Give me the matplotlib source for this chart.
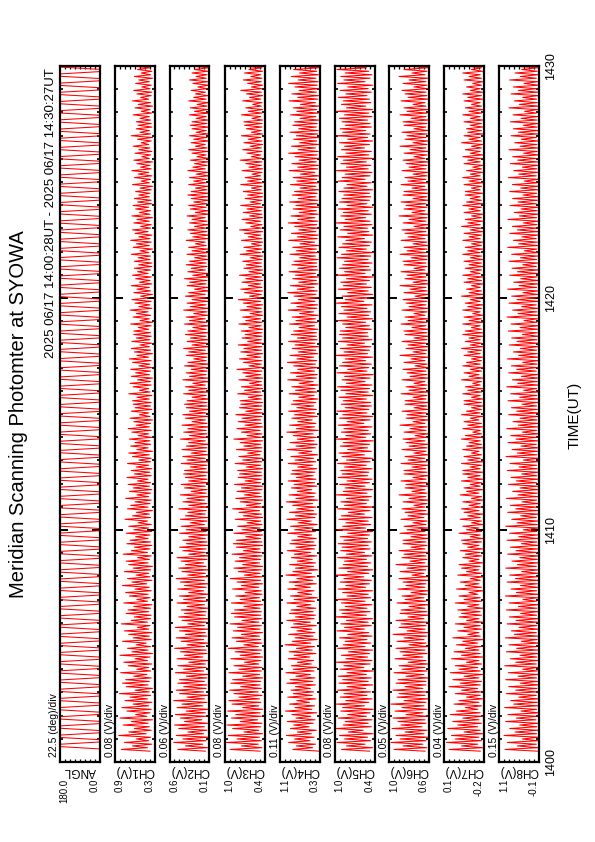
import numpy as np
import matplotlib.pyplot as plt
from matplotlib.ticker import FixedLocator, MultipleLocator

plt.rcParams['font.family'] = ['Liberation Sans', 'DejaVu Sans']

# ------------------------------------------------------------
# data
# time in minutes after 14:00 UT, channel values in 0.01 V
# each channel: one low and one high reading per scan
# ------------------------------------------------------------
t_start = 28 / 60          # 14:00:28
t_end = 30 + 27 / 60       # 14:30:27

angl = [0, 0, 180, 180, 0, 0, 180, 180, 0, 0, 180, 180, 0, 0, 180, 180,
        0, 0, 180, 180, 0, 0, 180, 180, 0, 0, 180, 180, 0, 0, 180, 180,
        0, 0, 180, 180, 0, 0, 180, 180, 0, 0, 180, 180, 0, 0, 180, 180,
        0, 0, 180, 180, 0, 0, 180, 180, 0, 0, 180, 180, 0, 0, 180, 180,
        0, 0, 180, 180, 0, 0, 180, 180, 0, 0, 180, 180, 0, 0, 180, 180,
        0, 0, 180, 180, 0, 0, 180, 180, 0, 0, 180, 180, 0, 0, 180, 180,
        0, 0, 180, 180, 0, 0, 180, 180, 0, 0, 180, 180, 0, 0, 180, 180,
        0, 0, 180, 180, 0, 0, 180, 180, 0, 0, 180, 180, 0, 0, 180, 180,
        0, 0, 180, 180, 0, 0, 180, 180, 0, 0, 180, 180, 0, 0, 180, 180,
        0, 0, 180, 180, 0, 0, 180, 180, 0, 0, 180, 180, 0, 0, 180, 180,
        0, 0, 180, 180, 0, 0, 180, 180, 0, 0, 180, 180, 0, 0, 180, 180,
        0, 0, 180, 180, 0, 0, 180, 180, 0, 0, 180, 180, 0, 0, 180, 180,
        0, 0, 180, 180, 0, 0, 180, 180, 0, 0, 180, 180, 0, 0, 180, 180,
        0, 0, 180, 180, 0, 0, 180, 180, 0, 0, 180, 180, 0, 0, 180, 180,
        0, 0, 180, 180, 0, 0, 180, 180, 0, 0, 180, 180, 0, 0, 180, 180,
        0, 0, 180, 180, 0, 0, 180, 180, 0, 0, 180, 180, 0, 0, 180, 180,
        0, 0, 180, 180, 0, 0, 180, 180, 0, 0, 180, 180, 0, 0, 180, 180,
        0, 0, 180, 180, 0, 0, 180, 180, 0, 0, 180, 180, 0, 0, 180, 180,
        0, 0, 180, 180, 0, 0, 180, 180, 0, 0, 180, 180, 0, 0, 180, 180]

ch1_low = [36, 40, 33, 38, 35, 42, 34, 37, 39, 32, 41, 36, 34, 38, 33, 40, 35, 37, 32, 39,
           37, 34, 41, 35, 38, 33, 40, 36, 32, 39, 35, 42, 34, 37, 33, 38, 36, 40, 35, 34,
           38, 35, 33, 40, 36, 39, 34, 37, 41, 33, 36, 38, 35, 32, 39, 37, 34, 40, 36, 33,
           35, 39, 36, 33, 38, 34, 40, 35, 37, 32, 39, 36, 34, 38, 35, 33, 37, 35, 39, 34,
           36, 33, 38, 35, 34, 37, 32, 39, 35, 36, 33, 38, 34, 37, 35, 32, 36, 38, 33, 35,
           34, 37, 33, 36, 38, 34, 35, 32, 37, 35, 33, 36, 34, 38, 32, 35, 37, 33, 36, 34,
           35, 38, 34, 32, 37, 35, 39, 33, 36, 34, 38, 32, 35, 37, 33, 36, 34, 39, 35, 33,
           33, 36, 35, 38, 32, 37, 34, 36, 33, 39, 35, 34, 37, 32, 36, 35, 38, 33, 34, 37,
           36, 34, 32, 37, 35, 33, 38, 34, 36, 32, 37, 35, 33, 36, 38, 34, 32, 35, 37, 33,
           34, 35, 37, 33, 36, 32, 35, 38, 34, 33, 36, 34, 37, 32, 35, 33, 36, 34, 38, 35]
ch1_high = [82, 64, 77, 58, 86, 70, 61, 79, 66, 84, 59, 73, 81, 63, 76, 68, 85, 60, 74, 80,
            75, 62, 83, 57, 71, 78, 60, 84, 65, 72, 58, 80, 63, 70, 77, 56, 82, 66, 61, 74,
            71, 62, 78, 57, 69, 75, 60, 80, 65, 72, 58, 77, 63, 70, 74, 56, 79, 66, 61, 73,
            68, 59, 74, 62, 70, 55, 76, 64, 58, 72, 67, 60, 75, 57, 69, 63, 71, 56, 73, 61,
            66, 58, 72, 54, 64, 70, 57, 67, 60, 69, 55, 65, 71, 58, 62, 68, 53, 66, 60, 63,
            64, 57, 70, 53, 63, 68, 56, 66, 59, 67, 54, 64, 69, 57, 61, 66, 52, 65, 58, 62,
            62, 55, 67, 52, 63, 58, 68, 54, 60, 65, 51, 62, 57, 66, 53, 59, 64, 56, 61, 54,
            61, 55, 66, 52, 63, 58, 67, 54, 60, 64, 51, 62, 57, 65, 53, 59, 63, 56, 61, 54,
            59, 52, 64, 50, 61, 55, 65, 51, 57, 62, 49, 60, 54, 63, 50, 56, 66, 52, 58, 55,
            58, 52, 63, 50, 60, 55, 64, 51, 57, 62, 49, 59, 54, 61, 50, 56, 66, 52, 58, 55]

ch2_low = [15, 12, 18, 14, 11, 17, 13, 16, 12, 19, 14, 15, 11, 18, 13, 16, 12, 17, 14, 13,
           16, 13, 12, 17, 14, 15, 11, 18, 13, 14, 16, 12, 17, 13, 15, 11, 16, 14, 12, 15,
           14, 12, 16, 13, 15, 11, 17, 14, 12, 16, 13, 15, 12, 14, 17, 13, 11, 15, 14, 12,
           13, 15, 12, 14, 11, 16, 13, 12, 15, 14, 11, 13, 16, 12, 14, 13, 15, 11, 13, 14,
           12, 14, 13, 11, 15, 12, 14, 13, 11, 15, 12, 13, 14, 11, 13, 15, 12, 14, 11, 13,
           13, 11, 14, 12, 13, 15, 11, 12, 14, 13, 12, 11, 14, 13, 12, 15, 11, 13, 12, 14,
           12, 14, 11, 13, 15, 12, 13, 11, 14, 12, 13, 15, 11, 12, 14, 13, 11, 12, 15, 13,
           14, 12, 13, 11, 12, 14, 15, 12, 11, 13, 14, 12, 13, 15, 11, 12, 14, 13, 11, 12,
           11, 13, 12, 14, 13, 11, 12, 15, 13, 12, 11, 14, 12, 13, 15, 11, 13, 12, 14, 11,
           13, 12, 14, 11, 12, 13, 11, 14, 12, 15, 13, 11, 12, 14, 13, 12, 11, 13, 12, 14]
ch2_high = [48, 39, 53, 42, 50, 36, 47, 52, 40, 45, 51, 38, 49, 43, 53, 37, 46, 50, 41, 48,
            46, 38, 51, 41, 48, 35, 49, 40, 45, 52, 37, 44, 50, 39, 46, 51, 36, 43, 47, 40,
            44, 37, 49, 41, 46, 35, 48, 40, 45, 50, 36, 43, 47, 39, 44, 49, 35, 42, 46, 38,
            42, 35, 46, 38, 44, 33, 45, 39, 36, 47, 35, 42, 37, 45, 32, 40, 44, 35, 39, 41,
            40, 33, 44, 37, 42, 32, 43, 38, 35, 45, 34, 41, 36, 43, 31, 39, 42, 34, 38, 40,
            37, 31, 41, 35, 39, 30, 42, 34, 38, 32, 40, 36, 29, 38, 35, 41, 31, 37, 33, 39,
            36, 30, 40, 34, 38, 29, 41, 33, 37, 31, 39, 35, 28, 37, 34, 40, 30, 36, 32, 38,
            34, 28, 37, 31, 35, 27, 38, 30, 33, 36, 28, 34, 31, 37, 27, 33, 35, 29, 32, 36,
            32, 27, 35, 29, 34, 26, 36, 30, 28, 33, 25, 31, 35, 27, 32, 29, 34, 26, 31, 33,
            31, 26, 34, 28, 33, 25, 35, 29, 27, 32, 24, 30, 34, 26, 31, 28, 33, 25, 30, 32]

ch3_low = [44, 41, 47, 42, 45, 40, 46, 43, 41, 48, 42, 44, 40, 46, 43, 45, 41, 47, 42, 44,
           43, 40, 45, 42, 41, 46, 43, 40, 44, 42, 47, 41, 43, 45, 40, 44, 42, 46, 41, 43,
           42, 44, 40, 43, 45, 41, 42, 46, 40, 43, 41, 44, 42, 40, 45, 43, 41, 42, 44, 40,
           41, 43, 40, 42, 44, 41, 43, 40, 42, 45, 41, 43, 40, 42, 44, 41, 40, 43, 42, 41,
           42, 40, 43, 41, 40, 44, 42, 41, 43, 40, 42, 41, 44, 40, 42, 43, 41, 40, 42, 41,
           40, 42, 41, 43, 40, 41, 42, 40, 43, 41, 40, 42, 41, 43, 40, 42, 41, 40, 42, 41,
           41, 40, 42, 41, 43, 40, 41, 42, 40, 43, 41, 42, 40, 41, 43, 40, 42, 41, 40, 42,
           42, 41, 40, 43, 41, 42, 40, 41, 43, 40, 42, 41, 43, 40, 41, 42, 40, 43, 41, 40,
           40, 42, 41, 40, 42, 43, 41, 40, 42, 41, 40, 43, 41, 42, 40, 41, 43, 40, 42, 41,
           41, 40, 43, 41, 40, 42, 41, 43, 40, 42, 41, 40, 42, 41, 43, 40, 41, 42, 40, 43]
ch3_high = [92, 74, 98, 81, 95, 70, 88, 97, 76, 90, 83, 96, 72, 89, 94, 78, 86, 93, 75, 91,
            88, 72, 94, 78, 86, 69, 91, 76, 84, 95, 70, 82, 89, 74, 87, 80, 92, 73, 85, 90,
            85, 70, 90, 76, 83, 68, 88, 74, 81, 92, 69, 79, 86, 72, 84, 77, 89, 71, 82, 87,
            82, 67, 86, 73, 80, 65, 84, 71, 78, 88, 66, 76, 83, 69, 81, 74, 85, 68, 79, 77,
            80, 66, 84, 72, 78, 64, 82, 70, 76, 86, 65, 74, 81, 68, 79, 73, 83, 67, 77, 75,
            76, 63, 80, 69, 74, 61, 78, 67, 72, 81, 62, 71, 77, 65, 75, 70, 79, 64, 73, 68,
            74, 62, 78, 67, 72, 60, 76, 65, 71, 79, 61, 69, 75, 63, 73, 67, 77, 62, 70, 66,
            72, 60, 76, 66, 70, 58, 74, 63, 69, 77, 59, 67, 73, 61, 71, 65, 75, 60, 68, 64,
            71, 58, 75, 64, 68, 57, 73, 62, 67, 76, 58, 65, 72, 60, 70, 63, 74, 58, 66, 69,
            70, 57, 74, 63, 67, 56, 72, 61, 66, 75, 58, 64, 71, 59, 69, 62, 73, 57, 65, 68]

ch4_low = [27, 42, 36, 48, 39, 45, 34, 50, 41, 37, 46, 33, 44, 38, 49, 35, 43, 40, 47, 36,
           42, 37, 47, 39, 33, 45, 40, 48, 35, 43, 38, 46, 32, 41, 37, 44, 34, 47, 39, 36,
           41, 35, 46, 38, 32, 44, 39, 47, 34, 42, 37, 45, 31, 40, 36, 43, 33, 46, 38, 35,
           39, 34, 44, 36, 41, 32, 45, 37, 33, 40, 35, 42, 31, 39, 36, 44, 33, 38, 35, 41,
           37, 33, 42, 35, 40, 31, 44, 36, 32, 39, 34, 41, 30, 38, 35, 43, 32, 37, 34, 40,
           35, 31, 39, 33, 37, 30, 41, 34, 32, 38, 30, 36, 33, 40, 31, 35, 29, 37, 32, 34,
           34, 31, 38, 32, 36, 30, 40, 33, 31, 37, 30, 35, 32, 39, 30, 34, 29, 36, 31, 33,
           33, 30, 36, 31, 34, 29, 38, 32, 30, 35, 29, 33, 31, 37, 30, 34, 28, 32, 31, 35,
           32, 29, 35, 30, 33, 28, 37, 31, 29, 34, 28, 32, 30, 36, 29, 33, 28, 31, 30, 34,
           32, 29, 35, 30, 33, 28, 36, 31, 29, 34, 28, 32, 30, 35, 29, 33, 28, 31, 30, 34]
ch4_high = [86, 78, 95, 82, 100, 76, 91, 84, 98, 79, 88, 102, 81, 93, 77, 97, 85, 90, 80, 99,
            92, 79, 101, 85, 89, 76, 96, 83, 94, 78, 103, 87, 81, 95, 77, 90, 84, 99, 80, 93,
            90, 77, 99, 83, 91, 75, 97, 81, 94, 77, 101, 86, 80, 93, 76, 89, 83, 98, 79, 92,
            88, 75, 97, 82, 91, 74, 99, 80, 93, 77, 86, 100, 79, 94, 76, 89, 83, 96, 78, 90,
            87, 75, 96, 81, 90, 73, 98, 79, 92, 76, 85, 99, 78, 93, 75, 88, 82, 95, 77, 89,
            85, 73, 94, 80, 88, 72, 97, 78, 91, 75, 84, 98, 77, 92, 74, 87, 81, 95, 76, 89,
            84, 72, 93, 79, 87, 71, 96, 77, 90, 74, 83, 97, 76, 91, 73, 86, 80, 94, 75, 88,
            83, 71, 92, 78, 86, 70, 95, 76, 89, 73, 82, 96, 75, 90, 72, 85, 79, 93, 74, 87,
            82, 70, 91, 77, 85, 69, 94, 75, 88, 72, 81, 95, 74, 89, 71, 84, 78, 92, 73, 86,
            82, 70, 91, 77, 85, 69, 94, 75, 88, 72, 81, 95, 74, 89, 71, 84, 78, 92, 73, 86]

ch5_low = [45, 40, 52, 43, 48, 39, 55, 42, 47, 41, 50, 44, 39, 53, 46, 41, 49, 43, 51, 40,
           47, 42, 50, 39, 54, 44, 41, 48, 45, 40, 52, 43, 49, 41, 46, 53, 42, 47, 40, 50,
           44, 49, 41, 52, 43, 47, 40, 51, 45, 42, 54, 46, 40, 48, 43, 50, 41, 53, 44, 47,
           42, 48, 45, 40, 51, 43, 47, 41, 53, 44, 39, 50, 46, 42, 49, 40, 52, 45, 41, 48,
           46, 41, 50, 44, 40, 53, 42, 48, 45, 39, 51, 43, 47, 41, 54, 44, 40, 49, 46, 42,
           43, 50, 40, 47, 45, 41, 52, 44, 39, 49, 46, 42, 51, 40, 48, 45, 43, 53, 41, 47,
           48, 42, 45, 51, 40, 46, 43, 49, 41, 54, 44, 40, 47, 42, 50, 45, 39, 52, 43, 46,
           41, 47, 43, 39, 50, 45, 42, 53, 40, 46, 48, 41, 44, 51, 42, 47, 40, 49, 45, 43,
           45, 40, 49, 42, 52, 44, 41, 47, 43, 50, 39, 46, 42, 53, 45, 40, 48, 44, 51, 42,
           44, 48, 41, 46, 40, 51, 43, 45, 49, 42, 47, 40, 52, 44, 41, 46, 50, 43, 39, 48]
ch5_high = [90, 82, 97, 85, 93, 79, 99, 87, 84, 95, 80, 91, 88, 98, 83, 92, 86, 96, 81, 94,
            88, 95, 81, 92, 86, 98, 83, 90, 79, 96, 87, 84, 93, 80, 97, 85, 91, 82, 99, 89,
            93, 84, 90, 97, 81, 88, 95, 83, 92, 86, 98, 80, 94, 87, 85, 96, 82, 91, 89, 95,
            86, 92, 80, 97, 88, 83, 94, 90, 79, 96, 85, 91, 82, 98, 87, 84, 93, 81, 95, 89,
            91, 85, 96, 82, 89, 94, 80, 92, 87, 98, 83, 90, 86, 95, 81, 93, 88, 97, 84, 90,
            87, 94, 83, 91, 96, 82, 89, 85, 97, 80, 93, 88, 84, 99, 86, 92, 81, 95, 88, 93,
            92, 83, 88, 96, 81, 94, 86, 90, 98, 84, 89, 80, 95, 87, 91, 82, 97, 85, 93, 88,
            85, 97, 90, 82, 94, 88, 83, 96, 80, 92, 86, 99, 84, 91, 87, 95, 81, 93, 89, 86,
            94, 86, 81, 95, 89, 84, 98, 82, 91, 87, 96, 83, 90, 85, 93, 80, 97, 88, 92, 84,
            89, 93, 85, 98, 82, 90, 87, 95, 83, 92, 80, 96, 86, 91, 84, 97, 88, 94, 81, 90]

ch6_low = [64, 62, 66, 63, 61, 65, 62, 67, 63, 64, 61, 66, 62, 65, 63, 61, 64, 62, 66, 63,
           63, 61, 65, 62, 64, 61, 63, 66, 62, 64, 61, 63, 65, 62, 61, 64, 63, 62, 65, 61,
           62, 64, 61, 63, 65, 62, 61, 64, 63, 61, 62, 65, 63, 61, 64, 62, 63, 61, 64, 62,
           63, 61, 62, 64, 61, 63, 62, 65, 61, 63, 64, 62, 61, 63, 62, 64, 61, 62, 63, 61,
           62, 63, 61, 62, 64, 61, 63, 62, 61, 64, 62, 61, 63, 62, 64, 61, 62, 63, 61, 62,
           61, 63, 62, 61, 63, 62, 64, 61, 62, 63, 61, 62, 64, 61, 63, 62, 61, 63, 62, 61,
           62, 61, 63, 62, 61, 64, 62, 61, 63, 62, 64, 61, 62, 63, 61, 62, 63, 61, 64, 62,
           63, 62, 61, 63, 62, 61, 62, 64, 61, 63, 62, 61, 63, 62, 61, 64, 62, 63, 61, 62,
           61, 62, 64, 61, 63, 62, 61, 63, 62, 61, 64, 62, 61, 63, 62, 61, 63, 62, 61, 63,
           62, 61, 63, 62, 61, 63, 64, 61, 62, 63, 61, 62, 63, 61, 64, 62, 61, 62, 63, 61]
ch6_high = [95, 86, 98, 89, 93, 84, 97, 88, 91, 96, 83, 94, 87, 98, 85, 92, 90, 96, 84, 93,
            91, 83, 95, 87, 90, 81, 94, 86, 89, 93, 80, 92, 85, 96, 82, 90, 88, 93, 81, 89,
            88, 80, 92, 84, 87, 78, 91, 83, 86, 90, 77, 89, 82, 93, 79, 87, 85, 90, 78, 86,
            86, 78, 89, 82, 85, 76, 88, 81, 84, 87, 75, 86, 80, 90, 77, 84, 83, 88, 76, 85,
            85, 77, 88, 81, 84, 75, 87, 80, 83, 86, 74, 85, 79, 89, 76, 83, 82, 87, 75, 84,
            84, 76, 88, 80, 83, 75, 87, 79, 82, 86, 74, 85, 78, 89, 76, 83, 81, 87, 75, 84,
            85, 77, 88, 81, 84, 75, 87, 80, 83, 86, 74, 85, 79, 89, 76, 84, 82, 88, 75, 85,
            86, 78, 89, 82, 85, 76, 88, 81, 84, 87, 75, 86, 80, 90, 77, 85, 83, 88, 76, 86,
            85, 77, 88, 81, 84, 76, 87, 80, 83, 86, 75, 85, 79, 89, 76, 84, 82, 87, 75, 85,
            86, 78, 89, 82, 85, 76, 88, 81, 84, 87, 75, 86, 80, 90, 77, 85, 83, 88, 76, 86]

ch7_low = [-17, -19, -15, -18, -16, -19, -17, -15, -18, -16, -19, -17, -15, -18, -16, -19, -17, -18, -15, -17,
           -18, -16, -19, -17, -15, -18, -16, -19, -17, -16, -18, -15, -19, -17, -16, -18, -17, -19, -16, -18,
           -17, -19, -16, -18, -17, -15, -19, -18, -16, -17, -19, -18, -16, -17, -19, -16, -18, -17, -19, -16,
           -18, -19, -17, -18, -16, -19, -18, -17, -19, -16, -18, -17, -19, -18, -16, -19, -17, -18, -19, -17,
           -19, -17, -18, -19, -17, -18, -16, -19, -18, -17, -19, -18, -17, -19, -18, -16, -19, -17, -18, -19,
           -18, -19, -17, -18, -19, -17, -18, -19, -16, -18, -19, -17, -18, -19, -17, -18, -19, -18, -17, -19,
           -19, -18, -17, -19, -18, -19, -17, -18, -19, -17, -18, -19, -18, -17, -19, -18, -19, -17, -18, -19,
           -18, -19, -18, -17, -19, -18, -19, -17, -18, -19, -18, -17, -19, -18, -19, -17, -18, -19, -18, -17,
           -19, -17, -18, -19, -18, -17, -19, -18, -19, -17, -18, -19, -17, -18, -19, -18, -17, -19, -18, -19,
           -18, -19, -17, -18, -19, -18, -17, -19, -18, -19, -17, -18, -19, -18, -17, -19, -18, -17, -19, -18]
ch7_high = [8, -2, 10, 3, 6, -4, 9, 1, 5, -3, 7, 2, -5, 4, 0, -6, 3, -2, 8, -1,
            5, -4, 7, 0, 3, -6, 6, -2, 4, -5, 2, -3, 5, -7, 1, -4, 3, -6, 0, -2,
            1, -7, 3, -4, 0, -8, 2, -5, -1, -9, 1, -6, -2, 0, -8, -3, -5, -1, -7, -3,
            -2, -9, 0, -6, -3, -10, -1, -7, -4, -2, -8, -3, -10, -1, -6, -4, -9, -2, -7, -3,
            -3, -9, -2, -7, -4, -10, -3, -6, -8, -2, -5, -11, -3, -7, -4, -9, -2, -6, -10, -4,
            -4, -10, -3, -7, -5, -11, -2, -8, -4, -9, -3, -6, -10, -4, -7, -2, -9, -5, -8, -3,
            -5, -10, -3, -8, -4, -11, -3, -7, -5, -9, -2, -8, -6, -10, -4, -7, -3, -9, -5, -8,
            -4, -9, -3, -7, -5, -10, -3, -8, -4, -9, -2, -7, -5, -10, -4, -8, -3, -6, -9, -5,
            -5, -10, -4, -8, -3, -9, -6, -11, -4, -7, -3, -9, -5, -10, -2, -8, -4, -7, -6, -9,
            -4, -9, -3, -8, -5, -10, -4, -7, -3, -9, -6, -11, -4, -8, -3, -10, -5, -7, -4, -9]

ch8_low = [-5, -8, -2, -6, -9, -3, -7, -4, -8, -1, -6, -9, -3, -7, -5, -8, -2, -6, -4, -9,
           -6, -3, -8, -5, -9, -2, -7, -4, -8, -6, -3, -9, -5, -7, -2, -8, -4, -6, -9, -3,
           -7, -4, -9, -2, -6, -8, -3, -7, -5, -9, -4, -6, -8, -2, -7, -5, -9, -3, -6, -8,
           -4, -8, -6, -3, -9, -5, -7, -2, -8, -6, -4, -9, -3, -7, -5, -8, -6, -2, -9, -4,
           -8, -5, -3, -7, -9, -4, -6, -8, -2, -7, -5, -9, -3, -6, -8, -4, -7, -9, -5, -3,
           -6, -9, -4, -7, -3, -8, -5, -9, -6, -2, -8, -4, -7, -9, -5, -3, -8, -6, -4, -9,
           -5, -7, -9, -3, -6, -8, -4, -7, -2, -9, -5, -6, -8, -3, -7, -9, -4, -6, -8, -2,
           -7, -3, -6, -9, -4, -8, -5, -2, -7, -9, -6, -4, -8, -3, -9, -5, -7, -2, -6, -8,
           -3, -6, -8, -5, -9, -2, -7, -4, -8, -6, -3, -9, -5, -7, -4, -8, -2, -6, -9, -5,
           -8, -4, -7, -2, -6, -9, -5, -3, -8, -7, -4, -9, -6, -2, -8, -5, -7, -3, -9, -6]
ch8_high = [92, 55, 85, 40, 95, 62, 78, 48, 90, 58, 83, 44, 93, 66, 75, 51, 88, 60, 81, 46,
            90, 53, 82, 39, 93, 60, 76, 47, 88, 57, 80, 43, 91, 64, 73, 50, 86, 59, 79, 45,
            88, 52, 80, 38, 91, 58, 74, 46, 86, 61, 78, 42, 90, 55, 71, 48, 84, 59, 76, 43,
            86, 51, 78, 37, 90, 56, 72, 45, 84, 60, 76, 41, 88, 53, 69, 47, 82, 58, 74, 42,
            85, 50, 77, 37, 89, 55, 71, 44, 83, 59, 75, 40, 87, 52, 68, 47, 81, 57, 73, 41,
            83, 48, 75, 36, 87, 54, 70, 43, 81, 57, 73, 39, 85, 51, 67, 46, 79, 56, 72, 40,
            82, 47, 74, 35, 86, 53, 69, 42, 80, 56, 72, 38, 84, 50, 66, 45, 78, 55, 71, 39,
            80, 46, 72, 34, 84, 51, 67, 41, 78, 55, 70, 37, 83, 49, 64, 44, 77, 53, 69, 38,
            78, 45, 70, 34, 82, 51, 66, 40, 76, 54, 69, 36, 80, 47, 63, 43, 74, 52, 67, 37,
            76, 44, 68, 33, 80, 49, 64, 39, 74, 52, 67, 35, 78, 46, 62, 42, 72, 50, 65, 36]

panel_names = ['ANGL', 'CH1(V)', 'CH2(V)', 'CH3(V)', 'CH4(V)', 'CH5(V)', 'CH6(V)', 'CH7(V)', 'CH8(V)']
div_labels = ['22.5 (deg)/div', '0.08 (V)/div', '0.06 (V)/div', '0.08 (V)/div', '0.11 (V)/div',
              '0.08 (V)/div', '0.05 (V)/div', '0.04 (V)/div', '0.15 (V)/div']
scale_low = [0.0, 0.28, 0.10, 0.37, 0.26, 0.37, 0.60, -0.20, -0.10]
scale_div = [22.5, 0.08, 0.06, 0.08, 0.11, 0.08, 0.05, 0.04, 0.15]
time_ticks = [0, 10, 20, 30]
time_labels = ['1400', '1410', '1420', '1430']

lows = [ch1_low, ch2_low, ch3_low, ch4_low, ch5_low, ch6_low, ch7_low, ch8_low]
highs = [ch1_high, ch2_high, ch3_high, ch4_high, ch5_high, ch6_high, ch7_high, ch8_high]

# ------------------------------------------------------------
# layout: portrait page, plot drawn turned by 90 deg
# ------------------------------------------------------------
W, H = 595, 842
fig = plt.figure(figsize=(W / 100, H / 100), dpi=100)
fig.patch.set_facecolor('white')

def fx(x):
    return x / W

def fy(y):
    return 1 - y / H

panel_left = [59.5, 115, 169.5, 224.5, 280, 334.5, 389, 444, 499]
panel_w = 40
top_px, bot_px = 66, 762

t_angl = np.linspace(t_start, t_end, len(angl))

for i, name in enumerate(panel_names):
    left = panel_left[i]
    ax = fig.add_axes([fx(left), fy(bot_px), panel_w / W, (bot_px - top_px) / H])
    lo = scale_low[i]
    hi = lo + 8 * scale_div[i]

    if i == 0:
        ax.plot(angl, t_angl, color='red', lw=0.75)
    else:
        series = np.column_stack([lows[i - 1], highs[i - 1]]).ravel() / 100
        t = np.linspace(t_start, t_end, len(series))
        ax.plot(series, t, color='red', lw=0.75)

    ax.set_xlim(hi, lo)
    ax.set_ylim(0, 30)

    ax.xaxis.set_major_locator(FixedLocator([lo + k * scale_div[i] for k in range(1, 8)]))
    ax.tick_params(axis='x', which='major', direction='in', top=True, bottom=True,
                   length=2.5, width=0.9, labelbottom=False)
    ax.set_yticks(time_ticks)
    ax.yaxis.set_minor_locator(MultipleLocator(1))
    ax.tick_params(axis='y', which='major', direction='in', left=True, right=True,
                   length=6, width=1.4, labelleft=False)
    ax.tick_params(axis='y', which='minor', direction='in', left=True, right=True,
                   length=2.5, width=1.2)
    for s in ax.spines.values():
        s.set_linewidth(1.6)
        s.set_zorder(3)

    # scale text, channel name, end values
    fig.text(fx(left - 5), fy(757), div_labels[i], rotation=90, ha='center', va='bottom', fontsize=7.5)
    fig.text(fx(left + panel_w / 2), fy(771), name, rotation=180, ha='center', va='center', fontsize=8.5)
    fig.text(fx(left + 5), fy(779), f'{hi:.1f}', rotation=90, ha='center', va='top', fontsize=7)
    fig.text(fx(left + panel_w - 5), fy(779), f'{lo:.1f}', rotation=90, ha='center', va='top', fontsize=7)

for tt, lab in zip(time_ticks, time_labels):
    ypx = bot_px - tt * (bot_px - top_px) / 30
    fig.text(fx(551), fy(ypx), lab, rotation=90, ha='center', va='center', fontsize=9)

fig.text(fx(19), fy(414), 'Meridian Scanning Photomter at SYOWA', rotation=90,
         ha='center', va='center', fontsize=14.5)
fig.text(fx(51), fy(68), '2025 06/17 14:00:28UT - 2025 06/17 14:30:27UT', rotation=90,
         ha='center', va='top', fontsize=9.5)
fig.text(fx(575), fy(415), 'TIME(UT)', rotation=90, ha='center', va='center', fontsize=11)

fig.savefig('out.png', dpi=100)
